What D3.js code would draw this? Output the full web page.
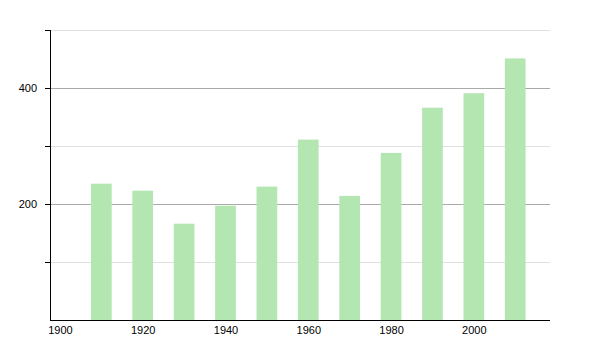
<!DOCTYPE html>
<html>
<head>
<meta charset="utf-8">
<script src="https://cdn.jsdelivr.net/npm/d3@7"></script>
<style>
  body { margin: 0; background: #fff; }
  text { font-family: "Liberation Sans", Arial, sans-serif; font-size: 11px; fill: #000; }
</style>
</head>
<body>
<script>
// data
let years = [1910, 1920, 1930, 1940, 1950, 1960, 1970, 1980, 1990, 2000, 2010];
let values = [235, 223, 166, 197, 230, 311, 214, 288, 366, 391, 451];
let xTicks = [1900, 1920, 1940, 1960, 1980, 2000];
let majorTicks = [200, 400];
let minorTicks = [100, 300, 500];

let width = 600, height = 350;
let plotLeft = 50, plotRight = 550, plotTop = 30, plotBottom = 320;

let svg = d3.select("body").append("svg")
  .attr("width", width)
  .attr("height", height);

let x = d3.scaleLinear().domain([1897.6, 2018.4]).range([plotLeft, plotRight]);
let y = d3.scaleLinear().domain([0, 500]).range([plotBottom, plotTop]);

// grid lines
svg.selectAll(".minor")
  .data(minorTicks)
  .enter().append("line")
  .attr("x1", plotLeft - 4).attr("x2", plotRight)
  .attr("y1", d => y(d) + 0.5).attr("y2", d => y(d) + 0.5)
  .attr("stroke", "#e0e0e0");

svg.selectAll(".major")
  .data(majorTicks)
  .enter().append("line")
  .attr("x1", plotLeft).attr("x2", plotRight)
  .attr("y1", d => y(d) + 0.5).attr("y2", d => y(d) + 0.5)
  .attr("stroke", "#aaa");

// bars, ~5 years wide, centered on the year
let barW = x(1905) - x(1900);
svg.selectAll(".bar")
  .data(years)
  .enter().append("rect")
  .attr("x", d => x(d) - barW / 2)
  .attr("y", (d, i) => y(values[i]))
  .attr("width", barW)
  .attr("height", (d, i) => y(0) - y(values[i]))
  .attr("fill", "#b3e6b1");

// y axis
let yAxis = d3.axisLeft(y)
  .tickValues(majorTicks.concat(minorTicks))
  .tickSize(5)
  .tickPadding(8)
  .tickFormat(d => majorTicks.includes(d) ? d : "");

let yg = svg.append("g")
  .attr("transform", "translate(" + plotLeft + ",0)")
  .call(yAxis);
yg.select(".domain").attr("stroke", "#000").attr("d", "M0.5," + plotTop + "V" + plotBottom);
yg.selectAll(".tick line").attr("stroke", "#000");
yg.selectAll(".tick text").style("font-family", "Liberation Sans, Arial, sans-serif").style("font-size", "11px");

// x axis
let xAxis = d3.axisBottom(x)
  .tickValues(xTicks)
  .tickSize(0)
  .tickPadding(6)
  .tickFormat(d3.format("d"));

let xg = svg.append("g")
  .attr("transform", "translate(0," + plotBottom + ")")
  .call(xAxis);
xg.select(".domain").attr("stroke", "#000").attr("d", "M" + plotLeft + ",0.5H" + plotRight);
xg.selectAll(".tick text").style("font-family", "Liberation Sans, Arial, sans-serif").style("font-size", "11px");
</script>
</body>
</html>
